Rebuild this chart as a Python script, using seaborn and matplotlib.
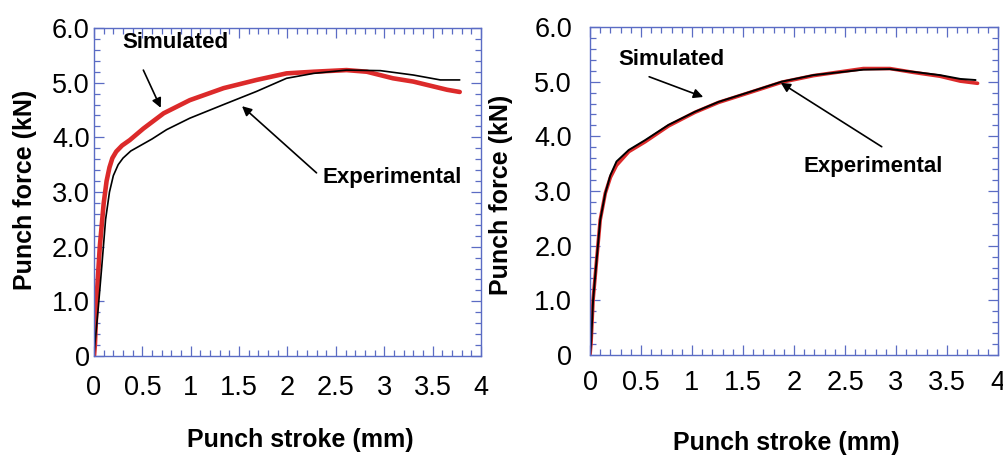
import numpy as np
import matplotlib
matplotlib.use("Agg")
import matplotlib.pyplot as plt
from matplotlib.ticker import MultipleLocator
import seaborn as sns

# Left panel: punch stroke (mm) vs punch force (kN)
left_sim_x = [0, 0.01, 0.03, 0.06, 0.10, 0.13, 0.16, 0.19, 0.23, 0.29, 0.37, 0.51,
              0.72, 0.99, 1.34, 1.68, 1.99, 2.27, 2.61, 2.82, 3.09, 3.30, 3.51,
              3.65, 3.78]
left_sim_y = [0, 0.23, 1.15, 2.00, 2.79, 3.20, 3.45, 3.62, 3.74, 3.85, 3.95, 4.16,
              4.44, 4.68, 4.90, 5.05, 5.17, 5.20, 5.23, 5.20, 5.08, 5.02, 4.93,
              4.87, 4.83]
left_exp_x = [0, 0.01, 0.045, 0.08, 0.12, 0.16, 0.20, 0.25, 0.30, 0.38, 0.48, 0.60,
              0.75, 0.99, 1.34, 1.68, 1.99, 2.27, 2.61, 2.96, 3.30, 3.58, 3.78]
left_exp_y = [0, 0.23, 0.90, 1.63, 2.50, 3.00, 3.30, 3.50, 3.62, 3.75, 3.85, 3.97,
              4.14, 4.35, 4.60, 4.84, 5.08, 5.17, 5.23, 5.22, 5.14, 5.05, 5.05]

# Right panel
right_sim_x = [0, 0.01, 0.03, 0.065, 0.10, 0.15, 0.20, 0.26, 0.38, 0.54, 0.77, 1.03,
               1.26, 1.58, 1.88, 2.19, 2.68, 2.94, 3.17, 3.43, 3.63, 3.80]
right_sim_y = [0, 0.21, 1.00, 1.74, 2.47, 2.96, 3.25, 3.47, 3.72, 3.90, 4.19, 4.44,
               4.62, 4.81, 4.99, 5.11, 5.24, 5.24, 5.17, 5.10, 5.01, 4.97]
right_exp_x = [0, 0.01, 0.03, 0.065, 0.10, 0.15, 0.20, 0.26, 0.38, 0.54, 0.77, 1.03,
               1.26, 1.58, 1.88, 2.19, 2.68, 2.94, 3.17, 3.43, 3.63, 3.78]
right_exp_y = [0, 0.21, 1.00, 1.74, 2.47, 2.96, 3.29, 3.54, 3.75, 3.93, 4.21, 4.45,
               4.63, 4.82, 5.00, 5.12, 5.22, 5.23, 5.18, 5.12, 5.05, 5.03]

x_ticks = [0, 0.5, 1, 1.5, 2, 2.5, 3, 3.5, 4]
x_tick_labels = ["0", "0.5", "1", "1.5", "2", "2.5", "3", "3.5", "4"]
y_ticks = [0, 1, 2, 3, 4, 5, 6]
y_tick_labels = ["0", "1.0", "2.0", "3.0", "4.0", "5.0", "6.0"]

sns.set_style("white")
plt.rcParams['font.family'] = ['Liberation Sans', 'DejaVu Sans']
plt.rcParams['text.color'] = 'black'
plt.rcParams['axes.labelcolor'] = 'black'

RED = "#dc2a2a"
FRAME = "#5b6cc4"

fig = plt.figure(figsize=(10.04, 4.59), dpi=100)
ax1 = fig.add_axes([94 / 1004, 103 / 459, 387 / 1004, 328 / 459])
ax2 = fig.add_axes([590 / 1004, 104 / 459, 408 / 1004, 328 / 459])

sns.lineplot(x=left_sim_x, y=left_sim_y, ax=ax1, color=RED, lw=3.3,
             sort=False, estimator=None)
sns.lineplot(x=left_exp_x, y=left_exp_y, ax=ax1, color="black", lw=1.2,
             sort=False, estimator=None)
sns.lineplot(x=right_sim_x, y=right_sim_y, ax=ax2, color=RED, lw=2.6,
             sort=False, estimator=None)
sns.lineplot(x=right_exp_x, y=right_exp_y, ax=ax2, color="black", lw=1.4,
             sort=False, estimator=None)


def style_axes(ax, xpad, ypad):
    ax.set_xlim(0, 4)
    ax.set_ylim(0, 6)
    ax.set_xticks(x_ticks, x_tick_labels)
    ax.set_yticks(y_ticks, y_tick_labels)
    ax.xaxis.set_minor_locator(MultipleLocator(0.1))
    ax.yaxis.set_minor_locator(MultipleLocator(0.2))
    for s in ax.spines.values():
        s.set_visible(True)
        s.set_color(FRAME)
        s.set_linewidth(1.0)
    ax.tick_params(which="both", direction="in", top=True, right=True,
                   bottom=True, left=True, color=FRAME, width=0.9,
                   labelcolor="black")
    ax.tick_params(which="major", length=7.5)
    ax.tick_params(which="minor", length=4)
    ax.tick_params(axis="x", which="major", labelsize=19.5, pad=xpad)
    ax.tick_params(axis="y", which="major", labelsize=19.5, pad=ypad)


style_axes(ax1, 14, 3)
style_axes(ax2, 11, 13)

for ax, xl, yl in [(ax1, (0.532, -0.256), (-0.178, 0.506)),
                   (ax2, (0.48, -0.268), (-0.218, 0.488))]:
    ax.set_xlabel("Punch stroke (mm)", fontsize=18, fontweight="bold", va="center")
    ax.set_ylabel("Punch force (kN)", fontsize=18, fontweight="bold", va="center")
    ax.xaxis.set_label_coords(*xl)
    ax.yaxis.set_label_coords(*yl)

arrow = dict(arrowstyle="-|>", color="black", lw=1.2, mutation_scale=14,
             shrinkA=0, shrinkB=0)
txt = dict(fontsize=16, fontweight="bold", va="center")

# left annotations
ax1.text(0.84, 5.73, "Simulated", ha="center", **txt)
ax1.annotate("", xy=(0.69, 4.54), xytext=(0.51, 5.23), arrowprops=arrow)
ax1.text(2.36, 3.26, "Experimental", ha="left", **txt)
ax1.annotate("", xy=(1.53, 4.57), xytext=(2.30, 3.35), arrowprops=arrow)

# right annotations
ax2.text(0.80, 5.40, "Simulated", ha="center", **txt)
ax2.annotate("", xy=(1.11, 4.72), xytext=(0.58, 5.09), arrowprops=arrow)
ax2.text(2.78, 3.45, "Experimental", ha="center", **txt)
ax2.annotate("", xy=(1.87, 4.98), xytext=(2.86, 3.81), arrowprops=arrow)

plt.savefig("out.png", dpi=100)
